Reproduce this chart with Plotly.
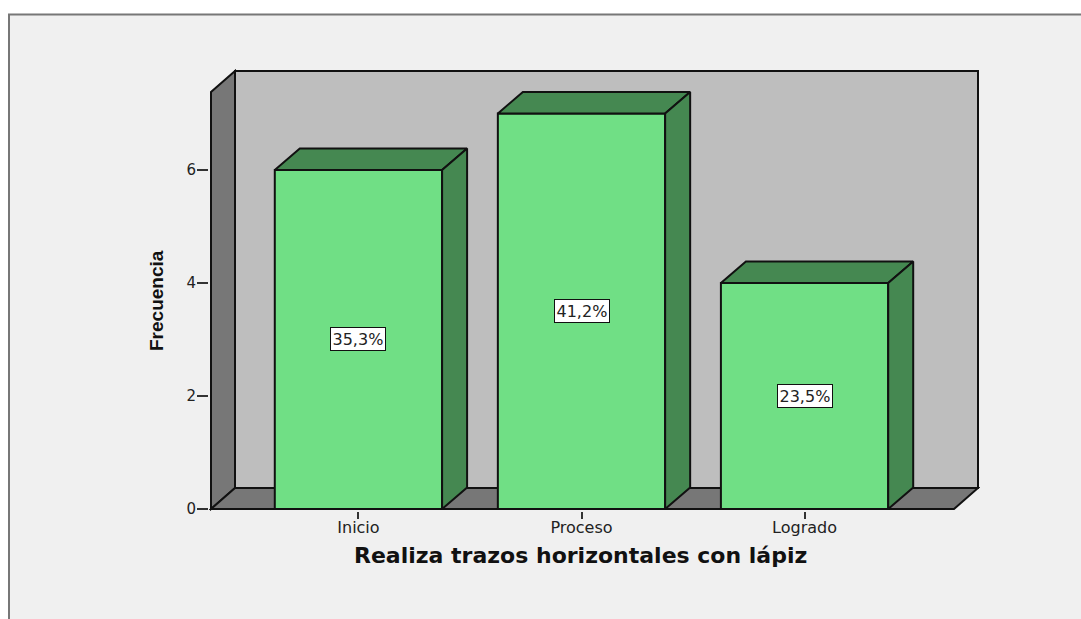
import plotly.graph_objects as go

categories = ["Inicio", "Proceso", "Logrado"]
frequencies = [6, 7, 4]
percent_labels = ["35,3%", "41,2%", "23,5%"]
y_ticks = [0, 2, 4, 6]
x_title = "Realiza trazos horizontales con lápiz"
y_title = "Frecuencia"

W, H = 1081, 619
BAR_W = 0.75
DX, DY = 0.1076, 0.3717      # 3D depth of the walls in axis units
BAR_DX, BAR_DY = 0.1121, 0.3805  # 3D depth of the bars in axis units
X0, X1 = -0.661, 2.67        # front floor extent
YTOP = 7.38                  # front top of the side wall
PAD = 2                      # px of spare room so wall outlines are not clipped
PX_X, PX_Y = 223.0, 56.5     # px per axis unit
GREEN, DARK_GREEN = "#70DF85", "#458851"
WALL, SIDE = "#BEBEBE", "#777777"
INK = "#111111"
TXT = "#222222"

fig = go.Figure()


def poly_path(pts):
    return "M " + " L ".join(f"{x},{y}" for x, y in pts) + " Z"


walls = [
    (WALL, [(X0 + DX, DY), (X1 + DX, DY), (X1 + DX, YTOP + DY), (X0 + DX, YTOP + DY)]),
    (SIDE, [(X0, 0), (X0 + DX, DY), (X0 + DX, YTOP + DY), (X0, YTOP)]),
    (SIDE, [(X0, 0), (X1, 0), (X1 + DX, DY), (X0 + DX, DY)]),
]
shapes = [dict(type="rect", xref="paper", yref="paper", x0=9 / W, x1=1.02, y0=-0.02, y1=1 - 14.5 / H,
               fillcolor="#F0F0F0", line=dict(color="#777777", width=2), layer="below")]
for col, pts in walls:
    shapes.append(dict(type="path", path=poly_path(pts), xref="x", yref="y", fillcolor=col,
                       line=dict(color=INK, width=2), layer="below"))

fig.add_trace(go.Bar(x=list(range(len(categories))), y=frequencies, width=BAR_W,
                     marker=dict(color=GREEN, line=dict(color=INK, width=2)), hoverinfo="skip"))

for i, v in enumerate(frequencies):
    l, r = i - BAR_W / 2, i + BAR_W / 2
    top = [(l, v), (r, v), (r + BAR_DX, v + BAR_DY), (l + BAR_DX, v + BAR_DY), (l, v)]
    side = [(r, 0), (r + BAR_DX, BAR_DY), (r + BAR_DX, v + BAR_DY), (r, v), (r, 0)]
    for pts in (top, side):
        fig.add_trace(go.Scatter(x=[p[0] for p in pts], y=[p[1] for p in pts], mode="lines",
                                 fill="toself", fillcolor=DARK_GREEN,
                                 line=dict(color=INK, width=2), hoverinfo="skip"))

annotations = [
    dict(x=i, y=v / 2, text=t, showarrow=False, bgcolor="white", bordercolor=INK, borderwidth=1,
         borderpad=1.5, font=dict(family="DejaVu Sans", size=16, color=TXT))
    for i, (v, t) in enumerate(zip(frequencies, percent_labels))
]
annotations.append(dict(xref="paper", yref="paper", x=580.5 / W, y=1 - 555.5 / H,
                        text=x_title, showarrow=False, xanchor="center", yanchor="middle",
                        font=dict(family="DejaVu Sans", size=22, color="#111111", weight="bold")))
annotations.append(dict(xref="paper", yref="paper", x=156 / W, y=1 - 301 / H,
                        text=y_title, textangle=-90, showarrow=False, xanchor="center", yanchor="middle",
                        font=dict(family="Liberation Sans", size=19, color="#111111", weight="bold")))

fig.update_layout(
    width=W, height=H, margin=dict(l=0, r=0, t=0, b=0, autoexpand=False), showlegend=False,
    paper_bgcolor="white", plot_bgcolor="rgba(0,0,0,0)", shapes=shapes, annotations=annotations,
    xaxis=dict(domain=[(211 - PAD) / W, (978 + PAD) / W],
               range=[X0 - PAD / PX_X, X1 + DX + PAD / PX_X], showgrid=False, zeroline=False, showline=False,
               tickmode="array", tickvals=list(range(len(categories))), ticktext=categories,
               ticks="outside", ticklen=7, tickwidth=2, tickcolor="#333333", ticklabelstandoff=-5,
               tickfont=dict(family="DejaVu Sans", size=16, color=TXT)),
    yaxis=dict(domain=[1 - (509 + PAD) / H, 1 - (71 - PAD) / H],
               range=[-PAD / PX_Y, YTOP + DY + PAD / PX_Y], showgrid=False, zeroline=False, showline=False,
               tickmode="array", tickvals=y_ticks, ticks="outside", ticklen=11, tickwidth=1.5, tickcolor="#333333",
               ticklabelstandoff=-2,
               tickfont=dict(family="DejaVu Sans", size=15, color=TXT)),
)

fig.write_html("out.html", config={"displayModeBar": False},
               post_script="document.body.style.margin='0';document.documentElement.style.overflow='hidden';")
